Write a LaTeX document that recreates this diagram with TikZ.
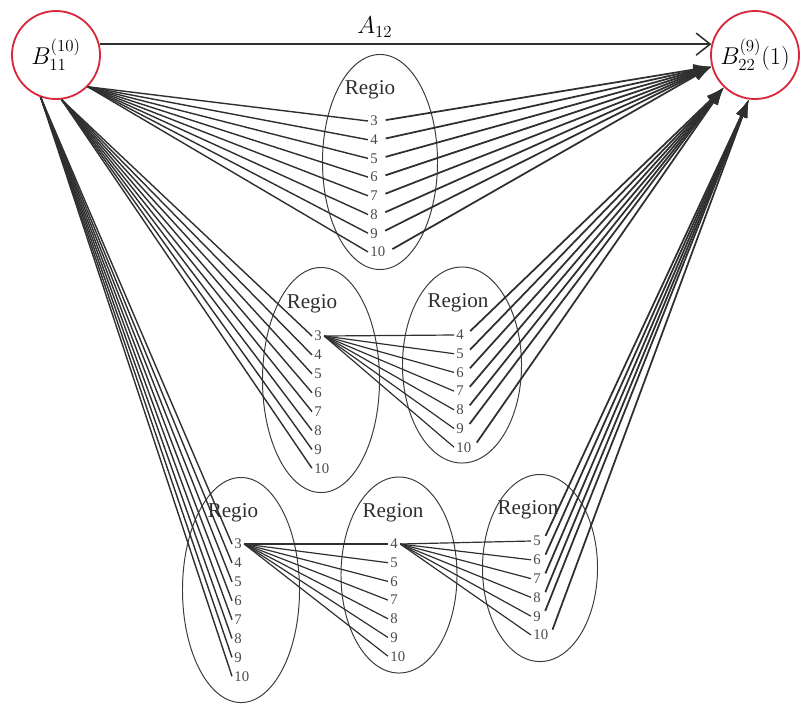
\documentclass[tikz,border=0pt]{standalone}
\usepackage{fontspec}
\setmainfont{Liberation Serif}
\usepackage{amsmath}
\usetikzlibrary{arrows.meta,positioning,shapes.geometric}
\definecolor{crojo}{HTML}{D8283C}
\definecolor{clinea}{HTML}{2E302E}
\definecolor{celipse}{HTML}{3C3C3C}
\definecolor{cnum}{HTML}{4A4A4A}
\tikzset{
  extremo/.style={circle,draw=crojo,line width=1.3pt,minimum size=2.2cm,inner sep=0pt,
                  font=\fontsize{18}{20}\selectfont},
  elipse/.style={ellipse,draw=celipse,line width=0.7pt,inner sep=0pt},
  num/.style={font=\fontsize{10.5}{12}\selectfont,text=cnum,inner sep=1.5pt,anchor=west},
  tit/.style={font=\fontsize{15}{17}\selectfont,text=clinea},
  linea/.style={draw=clinea,line width=1pt},
  lineap/.style={draw=clinea,line width=0.85pt},
  flecha/.style={-{Latex[length=4.5mm,width=2.8mm]},draw=clinea,line width=1.25pt,shorten <=4pt},
  flechaa/.style={-{Straight Barb[length=3.5mm,width=5.5mm]},draw=clinea,line width=1.1pt},
}

\begin{document}
\begin{tikzpicture}[x=0.025cm,y=-0.025cm]
\useasboundingbox (0,0) rectangle (801,706);

% ---------------- regiones ----------------
\node[elipse,minimum width=2.875cm,minimum height=5.375cm] (e1) at (380,162) {};
\node[elipse,minimum width=2.925cm,minimum height=5.625cm] (e2) at (321,380) {};
\node[elipse,minimum width=2.975cm,minimum height=4.9cm]   (e3) at (462,365) {};
\node[elipse,minimum width=2.925cm,minimum height=5.625cm] (e4) at (241,590) {};
\node[elipse,minimum width=2.9cm,minimum height=4.9cm]     (e5) at (399,575) {};
\node[elipse,minimum width=2.875cm,minimum height=4.675cm] (e6) at (540,568) {};

\node[tit] (t1) at (370,90)  {Regio};
\node[tit] (t2) at (312,304) {Regio};
\node[tit] (t3) at (458,303) {Region};
\node[tit] (t4) at (233,513) {Regio};
\node[tit] (t5) at (393,513) {Region};
\node[tit] (t6) at (528,510) {Region};

\foreach \n in {3,...,10} \node[num] (r1-\n) at (368,{121+18.7*(\n-3)}) {\n};
\foreach \n in {3,...,10} \node[num] (r2-\n) at (312,{336+18.9*(\n-3)}) {\n};
\foreach \n in {4,...,10} \node[num] (r3-\n) at (454,{335+18.7*(\n-4)}) {\n};
\foreach \n in {3,...,10} \node[num] (r4-\n) at (232,{544+18.9*(\n-3)}) {\n};
\foreach \n in {4,...,10} \node[num] (r5-\n) at (388,{544+18.7*(\n-4)}) {\n};
\foreach \n in {5,...,10} \node[num] (r6-\n) at (531,{541+18.8*(\n-5)}) {\n};

% ---------------- extremos ----------------
\node[extremo] (b11) at (56,55)  {$B_{11}^{(10)}$};
\node[extremo] (b22) at (755,55) {$B_{22}^{(9)}(1)$};
\draw[flechaa] (b11.14) -- node[above=1pt,pos=0.45,font=\fontsize{17}{19}\selectfont]{$A_{12}$} (b22.166);

% ---------------- caminos ----------------
\foreach \n in {3,...,10} {
  \draw[linea]  (b11.-45) -- (r1-\n.west);
  \draw[flecha] (r1-\n.east) -- (b22.195);
  \draw[linea]  (b11.-83) -- (r2-\n.west);
  \draw[linea]  (b11.-110) -- (r4-\n.west);
}
\foreach \n in {4,...,10} {
  \draw[lineap] (r2-3.east) -- (r3-\n.west);
  \draw[flecha] (r3-\n.east) -- (b22.226);
  \draw[lineap] (r4-3.east) -- (r5-\n.west);
}
\foreach \n in {5,...,10} {
  \draw[lineap] (r5-4.east) -- (r6-\n.west);
  \draw[flecha] (r6-\n.east) -- (b22.262);
}

\end{tikzpicture}
\end{document}
